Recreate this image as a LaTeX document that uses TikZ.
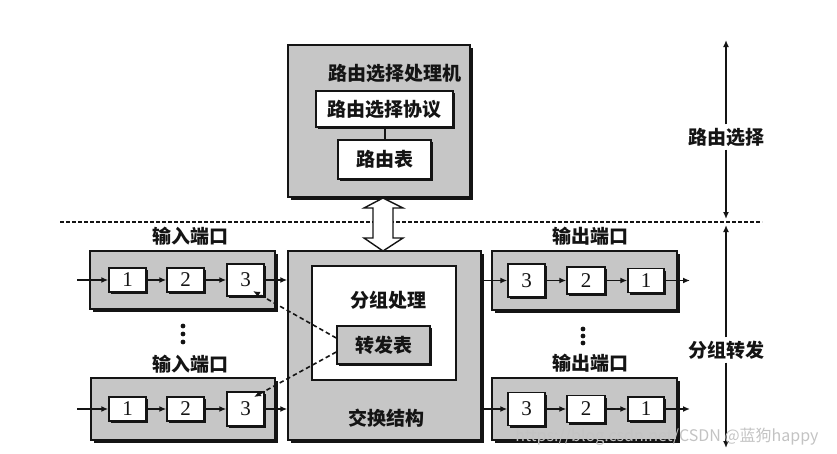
\documentclass[tikz,border=0pt]{standalone}
\usepackage{fontspec}
\setmainfont{Liberation Serif}
\newfontfamily\cjk{Noto Sans CJK SC}
\usetikzlibrary{
  arrows.meta,
  positioning,
  calc,
  shadows
}
\definecolor{panelcolor}{RGB}{198, 198, 198}
\definecolor{edgecolor}{RGB}{20, 20, 20}
\definecolor{cellcolor}{RGB}{255, 255, 255}
\definecolor{markcolor}{RGB}{195, 195, 195}
\tikzset{
cjktext/.style={
  font=\cjk\bfseries\fontsize{19}{21}\selectfont,
  text=edgecolor
},
panel/.style={
  draw=edgecolor,
  line width=1.5pt,
  fill=panelcolor,
  inner sep=0pt,
  drop shadow={fill=edgecolor, opacity=1, shadow xshift=2.5pt, shadow yshift=-2.5pt}
},
whitebox/.style={
  draw=edgecolor,
  line width=1.5pt,
  fill=cellcolor,
  inner sep=0pt,
  cjktext,
  drop shadow={fill=edgecolor, opacity=1, shadow xshift=2pt, shadow yshift=-2pt}
},
plainbox/.style={
  draw=edgecolor,
  line width=1.2pt,
  fill=cellcolor,
  inner sep=0pt
},
graybox/.style={
  whitebox,
  fill=panelcolor
},
cell/.style={
  draw=edgecolor,
  line width=1.5pt,
  fill=cellcolor,
  inner sep=0pt,
  font=\fontsize{21}{23}\selectfont,
  text=edgecolor,
  drop shadow={fill=edgecolor, opacity=1, shadow xshift=2pt, shadow yshift=-2pt}
},
link/.style={
  draw=edgecolor,
  line width=2pt
},
arrow/.style={
  -{Latex[length=7pt,width=6pt]},
  line width=1.6pt,
  draw=edgecolor
},
fwdlink/.style={
  arrow,
  dash pattern=on 4.5pt off 3pt
},
hollowarrow/.style={
  draw=edgecolor,
  line width=1.4pt,
  fill=cellcolor,
  line join=miter
},
divider/.style={
  draw=edgecolor,
  line width=1.2pt,
  dash pattern=on 3.5pt off 2.5pt
},
watermark/.style={
  font=\cjk\fontsize{16}{18}\selectfont,
  text=markcolor
}
}
\begin{document}
\begin{tikzpicture}[x=1pt, y=-1pt]
  \useasboundingbox (0,0) rectangle (837,453);

  % routing processor
  \node[panel, minimum width=182, minimum height=152] (rproc) at (379,121) {};
  \node[cjktext] (rproctitle) at (395,73) {路由选择处理机};
  \node[whitebox, minimum width=137, minimum height=36] (proto) at (384.5,109) {路由选择协议};
  \node[whitebox, minimum width=93, minimum height=39] (rtable) at (384.5,159.5) {路由表};
  \draw[link] (proto) -- (rtable);

  % plane divider and double arrow
  \draw[divider] (60,222) -- (762,222);
  \draw[hollowarrow] (383,198) -- (403,208) -- (393,208) -- (393,238) -- (403,238)
    -- (383,251) -- (364,238) -- (373,238) -- (373,208) -- (364,208) -- cycle;

  % switch fabric
  \node[panel, minimum width=193, minimum height=189] (fabric) at (384.5,345.5) {};
  \node[plainbox, minimum width=144, minimum height=114] (pproc) at (384,323) {};
  \node[cjktext] (pproctitle) at (388,300) {分组处理};
  \node[graybox, minimum width=93, minimum height=38] (ftable) at (383.5,345) {转发表};
  \node[cjktext] (fabrictitle) at (386,418) {交换结构};

  % input port (top)
  \node[cjktext] (inAlabel) at (190,236) {输入端口};
  \node[panel, minimum width=185, minimum height=58] (inA) at (182.5,280) {};
  \node[cell, minimum width=37, minimum height=24] (a1) at (127.5,280) {1};
  \node[cell, minimum width=37, minimum height=24] (a2) at (185.5,280) {2};
  \node[cell, minimum width=37, minimum height=32] (a3) at (245.5,280) {3};
  \coordinate (inAstart) at (77,280);
  \draw[arrow] (inAstart) -- (a1);
  \draw[arrow] (a1) -- (a2);
  \draw[arrow] (a2) -- (a3);
  \draw[arrow] (a3) -- (a3 -| fabric.west);

  % input port (bottom)
  \node[cjktext] (inBlabel) at (190,364) {输入端口};
  \node[panel, minimum width=184, minimum height=62] (inB) at (183,409) {};
  \node[cell, minimum width=37, minimum height=24] (b1) at (127.5,409) {1};
  \node[cell, minimum width=37, minimum height=24] (b2) at (185.5,409) {2};
  \node[cell, minimum width=37, minimum height=34] (b3) at (245.5,409) {3};
  \coordinate (inBstart) at (77,409);
  \draw[arrow] (inBstart) -- (b1);
  \draw[arrow] (b1) -- (b2);
  \draw[arrow] (b2) -- (b3);
  \draw[arrow] (b3) -- (b3 -| fabric.west);

  % output port (top)
  \node[cjktext] (outAlabel) at (590,236) {输出端口};
  \node[panel, minimum width=185, minimum height=59] (outA) at (584.5,280.5) {};
  \node[cell, minimum width=37, minimum height=33] (c3) at (526.5,280.5) {3};
  \node[cell, minimum width=38, minimum height=27] (c2) at (586,280.5) {2};
  \node[cell, minimum width=36, minimum height=24] (c1) at (646,280.5) {1};
  \coordinate (outAend) at (690,280.5);
  \draw[arrow] (fabric.east |- c3) -- (c3);
  \draw[arrow] (c3) -- (c2);
  \draw[arrow] (c2) -- (c1);
  \draw[arrow] (c1) -- (outAend);

  % output port (bottom)
  \node[cjktext] (outBlabel) at (590,363) {输出端口};
  \node[panel, minimum width=185, minimum height=62] (outB) at (584.5,409) {};
  \node[cell, minimum width=37, minimum height=33] (d3) at (526.5,409) {3};
  \node[cell, minimum width=38, minimum height=27] (d2) at (586,409) {2};
  \node[cell, minimum width=36, minimum height=24] (d1) at (646,409) {1};
  \coordinate (outBend) at (690,409);
  \draw[arrow] (fabric.east |- d3) -- (d3);
  \draw[arrow] (d3) -- (d2);
  \draw[arrow] (d2) -- (d1);
  \draw[arrow] (d1) -- (outBend);

  % ellipsis dots
  \fill[edgecolor] (183,326) circle (2.4) (183,334) circle (2.4) (183,342) circle (2.4);
  \fill[edgecolor] (583,329) circle (2.4) (583,336) circle (2.4) (583,343) circle (2.4);

  % forwarding table lookups
  \coordinate (a3tip) at (253,291);
  \coordinate (b3tip) at (254,397);
  \draw[fwdlink] ($(ftable.west)+(0,-7)$) -- (a3tip);
  \draw[fwdlink] ($(ftable.west)+(0,7)$) -- (b3tip);

  % plane axis
  \node[cjktext] (routelabel) at (726,137) {路由选择};
  \node[cjktext] (fwdlabel) at (726,350) {分组转发};
  \coordinate (axistop) at (726,40);
  \coordinate (axismidA) at (726,219);
  \coordinate (axismidB) at (726,225);
  \coordinate (axisbot) at (726,448);
  \draw[arrow] (routelabel) -- (axistop);
  \draw[arrow] (routelabel) -- (axismidA);
  \draw[arrow] (fwdlabel) -- (axismidB);
  \draw[arrow] (fwdlabel) -- (axisbot);

  % watermark
  \node[watermark, anchor=east] (mark) at (822,437) {https://blog.csdn.net/CSDN @蓝狗happy};
\end{tikzpicture}
\end{document}
